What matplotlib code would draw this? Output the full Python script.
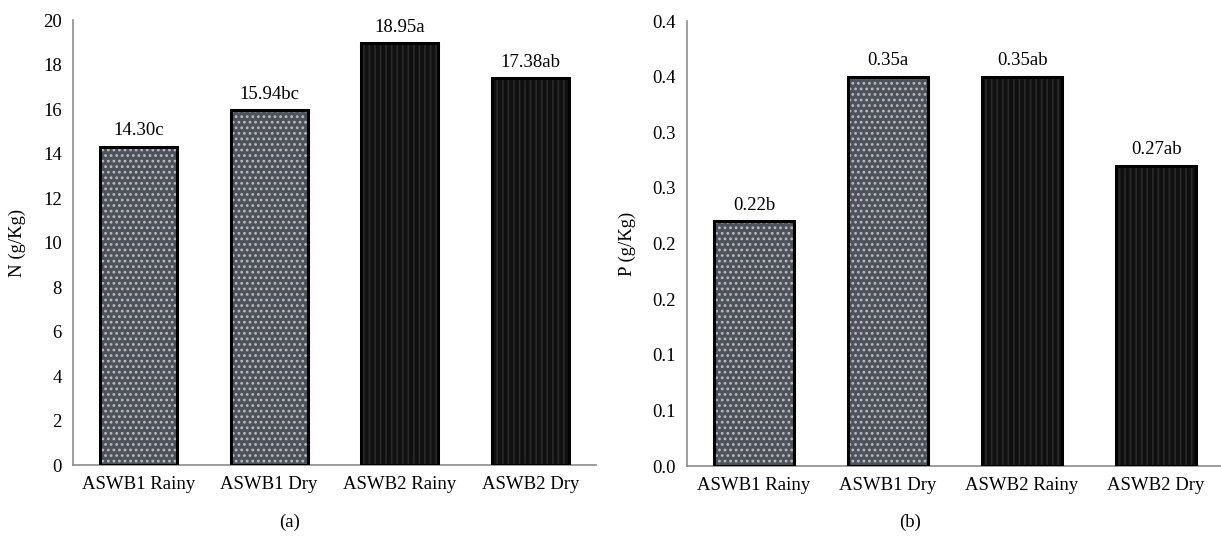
import matplotlib.pyplot as plt
import numpy as np

plt.rcParams['font.family'] = ['Liberation Serif', 'DejaVu Serif']

categories = ['ASWB1 Rainy', 'ASWB1 Dry', 'ASWB2 Rainy', 'ASWB2 Dry']
n_values = [14.30, 15.94, 18.95, 17.38]
n_labels = ['14.30c', '15.94bc', '18.95a', '17.38ab']
p_values = [0.22, 0.35, 0.35, 0.27]
p_labels = ['0.22b', '0.35a', '0.35ab', '0.27ab']
p_ticks = [0.0, 0.05, 0.10, 0.15, 0.20, 0.25, 0.30, 0.35, 0.40]
p_ticklabels = ['0.0', '0.1', '0.1', '0.2', '0.2', '0.3', '0.3', '0.4', '0.4']

# two looks: grey with white dots (ASWB1), near-black with faint stripes (ASWB2)
face = ['#4e535b', '#4e535b', '#101010', '#101010']
hatch = ['...', '...', '|||', '|||']
hatch_col = ['#b9bcc0', '#b9bcc0', '#2a2a2a', '#2a2a2a']

fig = plt.figure(figsize=(12.21, 5.37), dpi=100)
ax1 = fig.add_axes([0.0598, 0.134, 0.4283, 0.8287])
ax2 = fig.add_axes([0.5627, 0.132, 0.4390, 0.8287])


def draw_panel(ax, values, labels, width, offset):
    x = np.arange(len(values))
    for i in range(len(values)):
        ax.bar(x[i], values[i], width=width, color=face[i], hatch=hatch[i],
               edgecolor=hatch_col[i], linewidth=0, zorder=2)
    ax.bar(x, values, width=width, facecolor='none', edgecolor='black',
           linewidth=2.2, zorder=3)
    for i in range(len(values)):
        ax.text(x[i], values[i] + offset, labels[i], ha='center', va='bottom',
                fontsize=13.5)
    ax.set_xlim(-0.5, len(values) - 0.5)
    ax.set_xticks(x)
    ax.set_xticklabels(categories, fontsize=13.5)
    for s in ['top', 'right']:
        ax.spines[s].set_visible(False)
    for s in ['left', 'bottom']:
        ax.spines[s].set_color('#8c8c8c')
        ax.spines[s].set_linewidth(1.2)
    ax.tick_params(length=0, labelsize=13.5, pad=8)


plt.rcParams['hatch.linewidth'] = 1.2
draw_panel(ax1, n_values, n_labels, 0.59, 0.35)
ax1.set_ylim(0, 20)
ax1.set_yticks(range(0, 21, 2))
ax1.set_ylabel('N (g/Kg)', fontsize=13.5, labelpad=12)

draw_panel(ax2, p_values, p_labels, 0.6, 0.007)
ax2.set_ylim(0, 0.4)
ax2.set_yticks(p_ticks)
ax2.set_yticklabels(p_ticklabels)
ax2.set_ylabel('P (g/Kg)', fontsize=13.5, labelpad=12)

fig.text(290 / 1221, 1 - 522 / 537, '(a)', ha='center', va='center', fontsize=13.5)
fig.text(910 / 1221, 1 - 522 / 537, '(b)', ha='center', va='center', fontsize=13.5)

fig.savefig('out.png', dpi=100)
